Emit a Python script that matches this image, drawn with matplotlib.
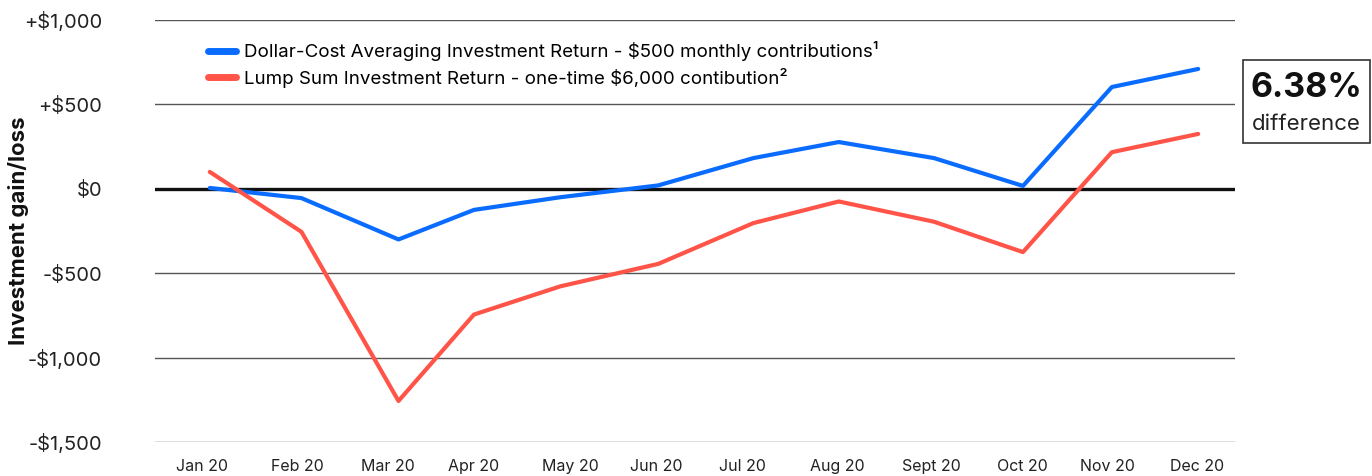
import matplotlib.pyplot as plt

months = ['Jan 20', 'Feb 20', 'Mar 20', 'Apr 20', 'May 20', 'Jun 20',
          'Jul 20', 'Aug 20', 'Sept 20', 'Oct 20', 'Nov 20', 'Dec 20']
# positions along the time axis, in months from the first point
point_pos = [0, 1.02, 2.10, 2.94, 3.90, 4.99, 6.05, 7.00, 8.06, 9.05, 10.04, 11.0]
label_pos = [-0.09, 0.97, 1.98, 2.93, 4.01, 4.97, 5.93, 6.98, 8.03, 9.04, 9.99, 10.99]
dca_return = [5, -55, -300, -125, -50, 20, 182, 277, 182, 17, 603, 710]
lump_return = [100, -255, -1257, -745, -578, -445, -203, -75, -195, -375, 217, 325]
y_ticks = [1000, 500, 0, -500, -1000, -1500]
y_labels = ['+$1,000', '+$500', '$0', '-$500', '-$1,000', '-$1,500']

plt.rcParams['font.family'] = ['Inter', 'DejaVu Sans']

fig = plt.figure(figsize=(13.72, 4.76), dpi=100)
ax = fig.add_axes([155 / 1372, 1 - 442 / 476, 1080 / 1372, 422 / 476])

for y in y_ticks:
    if y == 0:
        continue
    ax.axhline(y, color='#555555', lw=1.0, zorder=1)
ax.axhline(0, color='#111111', lw=2.4, zorder=2)

ax.plot(point_pos, dca_return, color='#0A6CFF', lw=3.0, solid_capstyle='round', zorder=3,
        label='Dollar-Cost Averaging Investment Return - \\$500 monthly contributions\u00b9')
ax.plot(point_pos, lump_return, color='#FF5447', lw=3.0, solid_capstyle='round', zorder=4,
        label='Lump Sum Investment Return - one-time \\$6,000 contibution\u00b2')

ax.set_xlim(-0.61, 11.41)
ax.set_ylim(-1500, 1000)
ax.set_yticks(y_ticks)
ax.set_yticklabels(y_labels, fontsize=14.5, color='#222222')
ax.set_xticks(label_pos)
ax.set_xticklabels(months, fontsize=11.5, color='#222222')
ax.tick_params(length=0, axis='y', pad=38)
ax.tick_params(length=0, axis='x', pad=12)
for s in ax.spines.values():
    s.set_visible(False)

ax.set_ylabel('Investment gain/loss', fontsize=16, fontweight='bold', color='#111111')
ax.yaxis.set_label_coords(-0.117, 0.5)

leg = ax.legend(loc='upper left', bbox_to_anchor=(0.033, 0.99), frameon=False,
                fontsize=13.5, handlelength=1.5, handletextpad=0.45, labelspacing=0.35)
for h in leg.legend_handles:
    h.set_linewidth(5)
    h.set_solid_capstyle('round')

fig.text(1306 / 1372, 1 - 88 / 476, '6.38%', ha='center', va='center', fontsize=24.5,
         fontweight='bold', color='#111111')
fig.text(1306 / 1372, 1 - 124 / 476, 'difference', ha='center', va='center', fontsize=16,
         color='#222222')
fig.patches.append(plt.Rectangle((1243 / 1372, 1 - 143 / 476), 127 / 1372, 83 / 476,
                                 transform=fig.transFigure, fill=False, ec='#333333', lw=1.2))

fig.savefig('out.png', dpi=100)
